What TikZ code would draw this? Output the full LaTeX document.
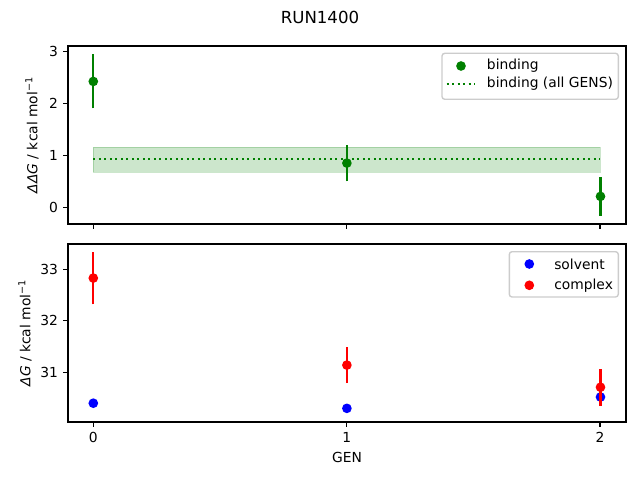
\documentclass[tikz,border=0pt]{standalone}
\usepackage{fontspec}
\setmainfont{DejaVu Sans}
\usetikzlibrary{positioning}
\definecolor{mplgreen}{HTML}{008000}
\definecolor{mplblue}{HTML}{0000FF}
\definecolor{mplred}{HTML}{FF0000}
\tikzset{font=\fontsize{10}{12}\selectfont}
\tikzset{spine/.style={line width=0.8pt},
  ticklab/.style={inner sep=0pt},
  errbar/.style={line width=1.5pt},
  dot/.style={circle, fill, inner sep=0pt, minimum size=7pt},
  legbox/.style={draw=black!20, fill=white, fill opacity=0.8, text opacity=1, rounded corners=2pt, line width=1pt}}

\begin{document}
\begin{tikzpicture}[x=0.254mm, y=-0.254mm]
\useasboundingbox (0,0) rectangle (640,480);
\node (title) at (320,17) {\fontsize{12}{14}\selectfont RUN1400};

% top axes: binding
\draw[spine] (68,46) rectangle (626,224);
\foreach \t/\py in {0/207.3,1/155.3,2/103.3,3/51.3}{
  \draw[spine] (68,\py) -- (63.1,\py);
  \node[ticklab, anchor=east] (ttop\t) at (58.3,\py) {\t};
}
\foreach \px in {93.3,346.7,600.0}
  \draw[spine] (\px,224) -- (\px,228.9);
\node[rotate=90] (ylabtop) at (32,135) {\textit{ΔΔG} / kcal mol\textsuperscript{−1}};
\begin{scope}[shift={(93.3,207.3)}, x=64.41mm, y=13.21mm]
  \fill[mplgreen, opacity=0.2] (0,0.67) rectangle (2,1.15);
  \draw[mplgreen, opacity=0.2, line width=1pt] (0,0.67) rectangle (2,1.15);
  \draw[mplgreen, line width=1.5pt, dash pattern=on 1.5pt off 2.475pt] (0,0.93) -- (2,0.93);
  \foreach \g/\v/\e in {0/2.42/0.52,1/0.85/0.35,2/0.21/0.37}{
    \draw[errbar, mplgreen] (\g,\v-\e) -- (\g,\v+\e);
    \node[dot, mplgreen] (bind\g) at (\g,\v) {};
  }
\end{scope}
\draw[legbox] (442,53.3) rectangle (618.3,99.3);
\node[dot, mplgreen] (legbind) at (461,66) {};
\node[ticklab, anchor=west] (legbindtxt) at (486.7,66) {binding};
\draw[mplgreen, line width=1.5pt, dash pattern=on 1.5pt off 2.475pt] (446.7,84) -- (474.3,84);
\node[ticklab, anchor=west] (legalltxt) at (486.7,84) {binding (all GENS)};

% bottom axes: solvent and complex
\draw[spine] (68,244) rectangle (626,422);
\foreach \t/\py in {31/372.3,32/320.8,33/269.3}{
  \draw[spine] (68,\py) -- (63.1,\py);
  \node[ticklab, anchor=east] (tbot\t) at (58.3,\py) {\t};
}
\foreach \t/\px in {0/93.3,1/346.7,2/600.0}{
  \draw[spine] (\px,422) -- (\px,426.9);
  \node[ticklab, anchor=north] (xt\t) at (\px,431.7) {\t};
}
\node (xlab) at (347,457) {GEN};
\node[rotate=90] (ylabbot) at (25,333) {\textit{ΔG} / kcal mol\textsuperscript{−1}};
\begin{scope}[shift={(93.3,372.3)}, x=64.41mm, y=13.08mm]
  \foreach \g/\v/\e in {0/-0.60/0.05,1/-0.70/0.08,2/-0.48/0.05}{
    \draw[errbar, mplblue] (\g,\v-\e) -- (\g,\v+\e);
    \node[dot, mplblue] (solv\g) at (\g,\v) {};
  }
  \foreach \g/\v/\e in {0/1.83/0.51,1/0.14/0.35,2/-0.29/0.36}{
    \draw[errbar, mplred] (\g,\v-\e) -- (\g,\v+\e);
    \node[dot, mplred] (cplx\g) at (\g,\v) {};
  }
\end{scope}
\draw[legbox] (509.3,251.7) rectangle (618.3,297);
\node[dot, mplblue] (legsolv) at (529.3,264) {};
\node[ticklab, anchor=west] (legsolvtxt) at (554,264) {solvent};
\node[dot, mplred] (legcplx) at (529.3,285.3) {};
\node[ticklab, anchor=west] (legcplxtxt) at (554,285.3) {complex};
\end{tikzpicture}
\end{document}
